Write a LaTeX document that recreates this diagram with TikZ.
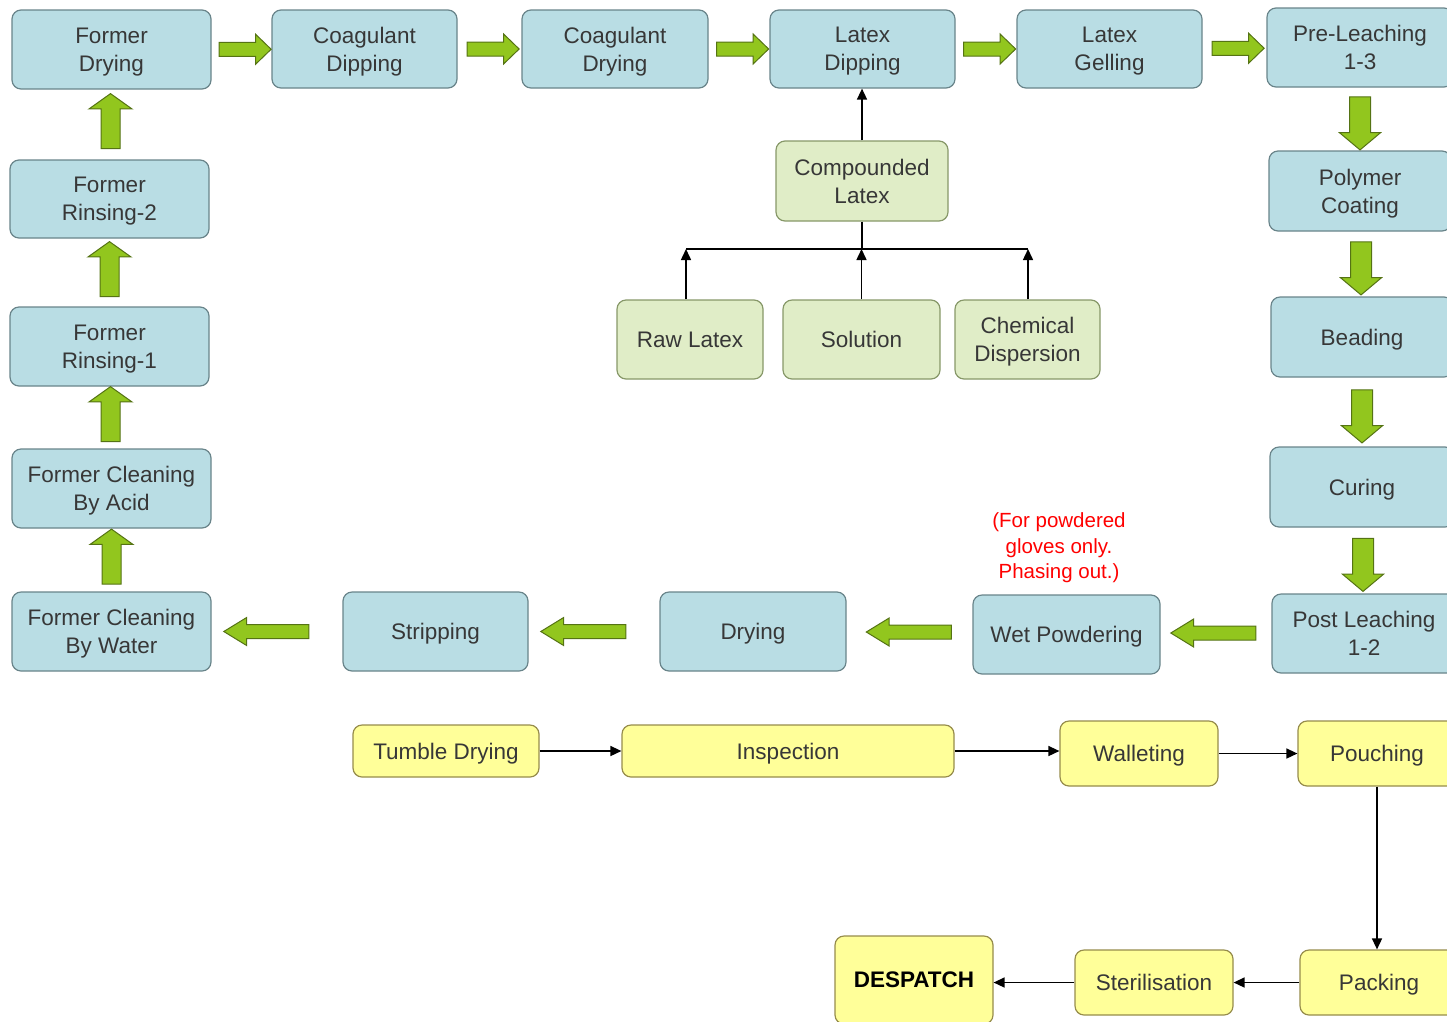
\documentclass[tikz,border=0pt]{standalone}
\usepackage{fontspec}
\setmainfont{Liberation Sans}
\usetikzlibrary{shapes.arrows,arrows.meta,calc}
\definecolor{bfill}{RGB}{185,221,228}
\definecolor{bdraw}{RGB}{105,132,138}
\definecolor{gfill}{RGB}{224,237,199}
\definecolor{gdraw}{RGB}{135,152,105}
\definecolor{yfill}{RGB}{255,255,153}
\definecolor{ydraw}{RGB}{150,140,75}
\definecolor{afill}{RGB}{146,198,30}
\definecolor{adraw}{RGB}{85,115,20}
\definecolor{txt}{RGB}{55,55,55}
\newcommand\boxfont{\fontsize{22.5}{28}\selectfont}
\tikzset{
  base/.style={rounded corners=9pt, line width=1.2pt, align=center, inner sep=2pt, font=\boxfont, text=txt, text depth=0pt},
  bbox/.style={base, draw=bdraw, fill=bfill},
  gbox/.style={base, draw=gdraw, fill=gfill},
  ybox/.style={base, draw=ydraw, fill=yfill},
  sz/.style 2 args={minimum width=#1pt, minimum height=#2pt},
  blk/.style={single arrow, draw=adraw, fill=afill, line width=1pt, inner xsep=0pt},
  harr/.style={blk, inner ysep=6.5pt, single arrow head extend=8pt, single arrow tip angle=88, minimum height=52pt},
  uarr/.style={blk, inner ysep=9pt, single arrow head extend=12pt, single arrow tip angle=109, minimum height=55pt, rotate=90},
  darr/.style={blk, inner ysep=10pt, single arrow head extend=10pt, single arrow tip angle=100, minimum height=53pt, rotate=-90},
  larr/.style={blk, inner ysep=6.5pt, single arrow head extend=7pt, single arrow tip angle=63, minimum height=85pt, rotate=180},
  conn/.style={line width=1.5pt, draw=black, -{Triangle[length=11pt,width=10pt]}},
  plain/.style={line width=1.5pt, draw=black},
}
\begin{document}
\begin{tikzpicture}[x=1pt,y=-1pt]
\useasboundingbox (0,0) rectangle (1447,1021);
% top row
\node[bbox, sz={199}{79}] (fd) at (111.5,49.5) {Former\\Drying};
\node[bbox, sz={185}{78}] (cdip) at (364.5,49) {Coagulant\\Dipping};
\node[bbox, sz={186}{78}] (cdry) at (615,49) {Coagulant\\Drying};
\node[bbox, sz={185}{78}] (ld) at (862.5,49) {Latex\\Dipping};
\node[bbox, sz={185}{78}] (lg) at (1109.5,49) {Latex\\Gelling};
\node[bbox, sz={186}{79}] (pl) at (1360,47.5) {Pre-Leaching\\1-3};
% left column
\node[bbox, sz={199}{78}] (fr2) at (109.5,199) {Former\\Rinsing-2};
\node[bbox, sz={199}{79}] (fr1) at (109.5,346.5) {Former\\Rinsing-1};
\node[bbox, sz={199}{79}] (fca) at (111.5,488.5) {Former Cleaning\\By Acid};
\node[bbox, sz={199}{79}] (fcw) at (111.5,631.5) {Former Cleaning\\By Water};
% right column
\node[bbox, sz={182}{80}] (pc) at (1360,191) {Polymer\\Coating};
\node[bbox, sz={182}{80}] (bd) at (1362,337) {Beading};
\node[bbox, sz={184}{80}] (cu) at (1362,487) {Curing};
\node[bbox, sz={184}{79}] (pol) at (1364,633.5) {Post Leaching\\1-2};
% bottom blue row
\node[bbox, sz={185}{79}] (st) at (435.5,631.5) {Stripping};
\node[bbox, sz={186}{79}] (dr) at (753,631.5) {Drying};
\node[bbox, sz={187}{79}] (wp) at (1066.5,634.5) {Wet Powdering};
\node[text=red, align=center, font=\fontsize{20.5}{25.5}\selectfont] (note) at (1059,548) {(For powdered\\gloves only.\\Phasing out.)};
% green boxes
\node[gbox, sz={172}{80}] (cl) at (862,181) {Compounded\\Latex};
\node[gbox, sz={146}{79}] (rl) at (690,339.5) {Raw Latex};
\node[gbox, sz={157}{79}] (so) at (861.5,339.5) {Solution};
\node[gbox, sz={145}{79}] (ch) at (1027.5,339.5) {Chemical\\Dispersion};
% yellow boxes
\node[ybox, sz={186}{52}] (td) at (446,751) {Tumble Drying};
\node[ybox, sz={332}{52}] (in) at (788,751) {Inspection};
\node[ybox, sz={158}{65}] (wa) at (1139,753.5) {Walleting};
\node[ybox, sz={158}{65}] (po) at (1377,753.5) {Pouching};
\node[ybox, sz={158}{88}, font=\boxfont\bfseries, text=black] (de) at (914,980) {DESPATCH};
\node[ybox, sz={158}{65}] (se) at (1154,982.5) {Sterilisation};
\node[ybox, sz={158}{65}] (pa) at (1379,982.5) {Packing};
% green block arrows
\node[harr] at ($(fd.east)!0.5!(cdip.west)$) {};
\node[harr] at ($(cdip.east)!0.5!(cdry.west)$) {};
\node[harr] at ($(cdry.east)!0.5!(ld.west)$) {};
\node[harr] at ($(ld.east)!0.5!(lg.west)$) {};
\node[harr] at ($(lg.east)!0.5!(pl.west)$) {};
\node[uarr] at ($(fr2.north)!0.5!(fd.south)$) {};
\node[uarr] at ($(fr1.north)!0.5!(fr2.south)$) {};
\node[uarr] at ($(fca.north)!0.5!(fr1.south)$) {};
\node[uarr] at ($(fcw.north)!0.5!(fca.south)$) {};
\node[darr] at ($(pl.south)!0.5!(pc.north)$) {};
\node[darr] at ($(pc.south)!0.5!(bd.north)$) {};
\node[darr] at ($(bd.south)!0.5!(cu.north)$) {};
\node[darr] at ($(cu.south)!0.5!(pol.north)$) {};
\node[larr] at ($(pol.west)!0.5!(wp.east)+(3,-1)$) {};
\node[larr] at ($(wp.west)!0.5!(dr.east)+(5,-1)$) {};
\node[larr] at ($(dr.west)!0.5!(st.east)+(-5,0)$) {};
\node[larr] at ($(st.west)!0.5!(fcw.east)+(-5,0)$) {};
% compounded latex connectors
\coordinate (jl) at (686,249);
\coordinate (jr) at (1028,249);
\draw[conn] (cl.north) -- (cl.north |- ld.south);
\draw[plain] (cl.south) -- (cl.south |- jl);
\draw[plain] (jl) -- (jr);
\draw[conn] (jl |- rl.north) -- (jl);
\draw[conn] (so.north) -- (so.north |- jl);
\draw[conn] (jr |- ch.north) -- (jr);
% yellow connectors
\draw[conn] (td.east) -- (in.west);
\draw[conn] (in.east) -- (in.east -| wa.west);
\draw[conn] (wa.east) -- (po.west);
\draw[conn] (po.south) -- (po.south |- pa.north);
\draw[conn] (pa.west) -- (se.east);
\draw[conn] (se.west) -- (se.west -| de.east);
\end{tikzpicture}
\end{document}
